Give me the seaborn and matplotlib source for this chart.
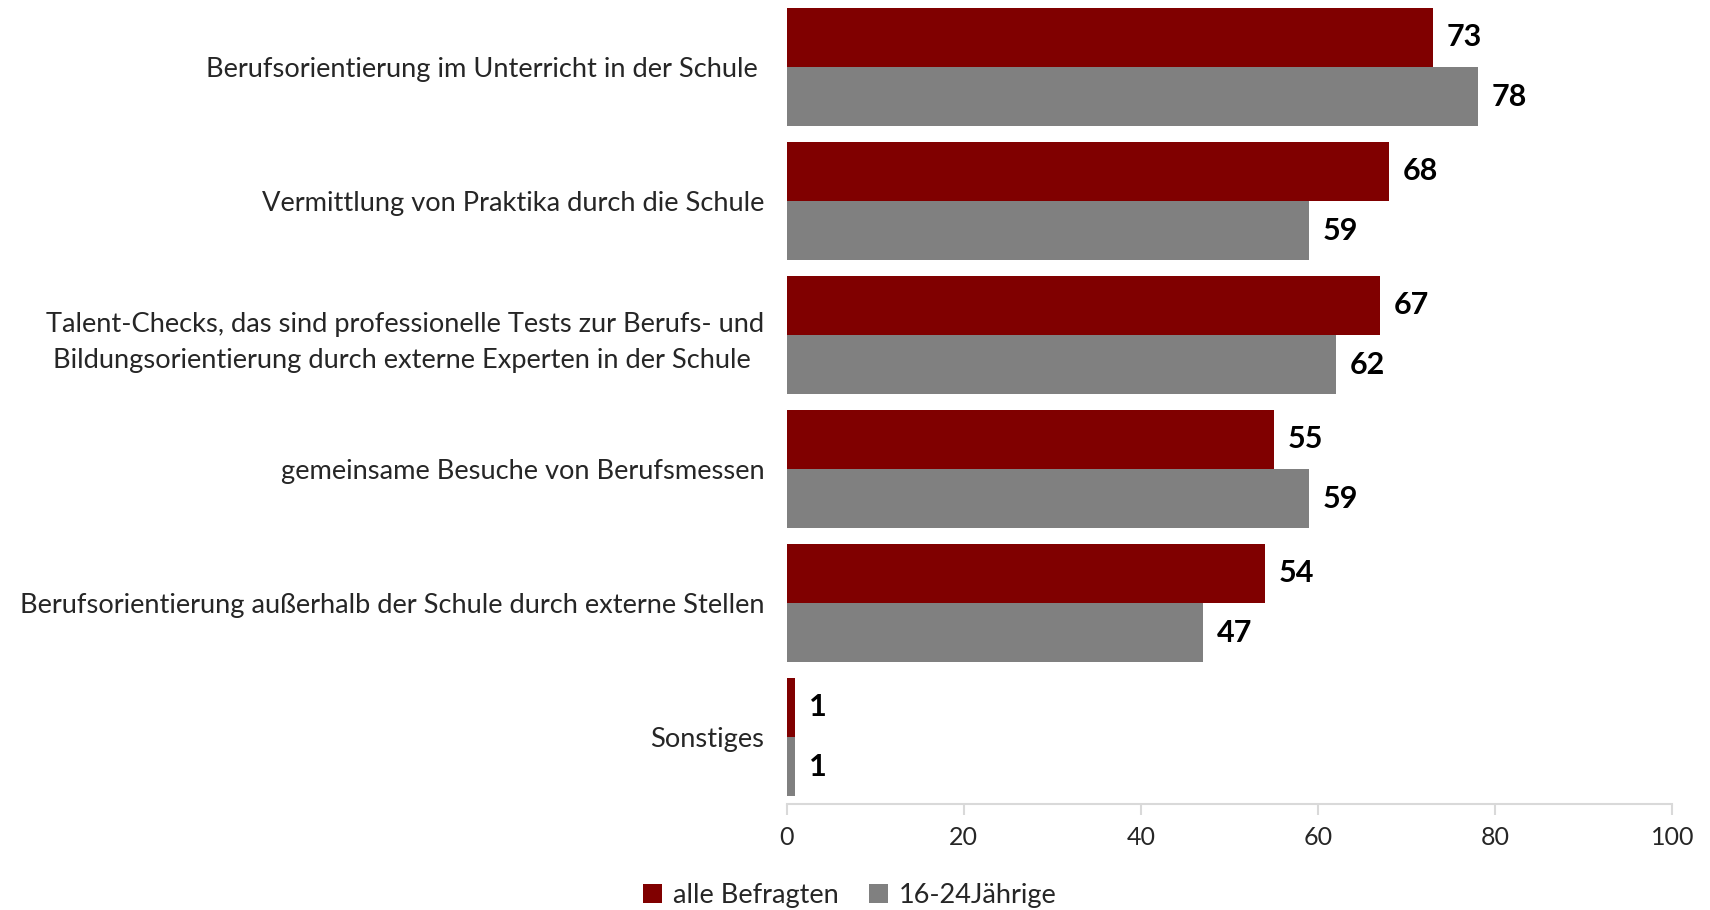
import matplotlib
matplotlib.use("Agg")
import matplotlib.pyplot as plt
import pandas as pd
import seaborn as sns

# Data
categories = [
    "Berufsorientierung im Unterricht in der Schule ",
    "Vermittlung von Praktika durch die Schule",
    "Talent-Checks, das sind professionelle Tests zur Berufs- und\n"
    "Bildungsorientierung durch externe Experten in der Schule ",
    "gemeinsame Besuche von Berufsmessen",
    "Berufsorientierung außerhalb der Schule durch externe Stellen",
    "Sonstiges",
]
series_names = ["alle Befragten", "16-24Jährige"]
alle_befragten = [73, 68, 67, 55, 54, 1]
jaehrige_16_24 = [78, 59, 62, 59, 47, 1]
x_ticks = [0, 20, 40, 60, 80, 100]

df = pd.DataFrame({
    "Kategorie": categories * 2,
    "Gruppe": [series_names[0]] * len(categories) + [series_names[1]] * len(categories),
    "Wert": alle_befragten + jaehrige_16_24,
})

sns.set_theme(style="white")
plt.rcParams["font.family"] = ["Lato", "DejaVu Sans"]

fig, ax = plt.subplots(figsize=(17.1, 9.1), dpi=100)
fig.subplots_adjust(left=0.460, right=0.978, top=1.0, bottom=0.1165)

palette = {series_names[0]: "#800000", series_names[1]: "#808080"}
sns.barplot(
    data=df, y="Kategorie", x="Wert", hue="Gruppe", orient="h",
    palette=palette, width=0.885, saturation=1, linewidth=0, ax=ax, legend=True,
)

for cont in ax.containers:
    ax.bar_label(cont, padding=10, fontsize=22, fontweight="bold", color="black")

ax.set_xlim(0, 100)
ax.set_ylim(5.5, -0.5)
ax.set_xticks(x_ticks)
ax.set_xlabel("")
ax.set_ylabel("")

for side in ["top", "right", "left"]:
    ax.spines[side].set_visible(False)
ax.spines["bottom"].set_color("#d9d9d9")
ax.spines["bottom"].set_linewidth(1.5)
ax.tick_params(axis="x", bottom=True, length=8, width=1.5, color="#d9d9d9",
               labelsize=18, pad=8)
ax.tick_params(axis="y", left=False, labelsize=19.6, pad=10)
for lab in ax.get_yticklabels():
    lab.set_multialignment("center")
    lab.set_linespacing(1.55)

ax.legend(
    loc="lower center", bbox_to_anchor=(0.497, -0.025), bbox_transform=fig.transFigure,
    ncol=2, frameon=False, fontsize=19.5, handlelength=0.7, handleheight=0.7,
    handletextpad=0.4, columnspacing=1.1,
)

fig.savefig("out.png", dpi=100)
